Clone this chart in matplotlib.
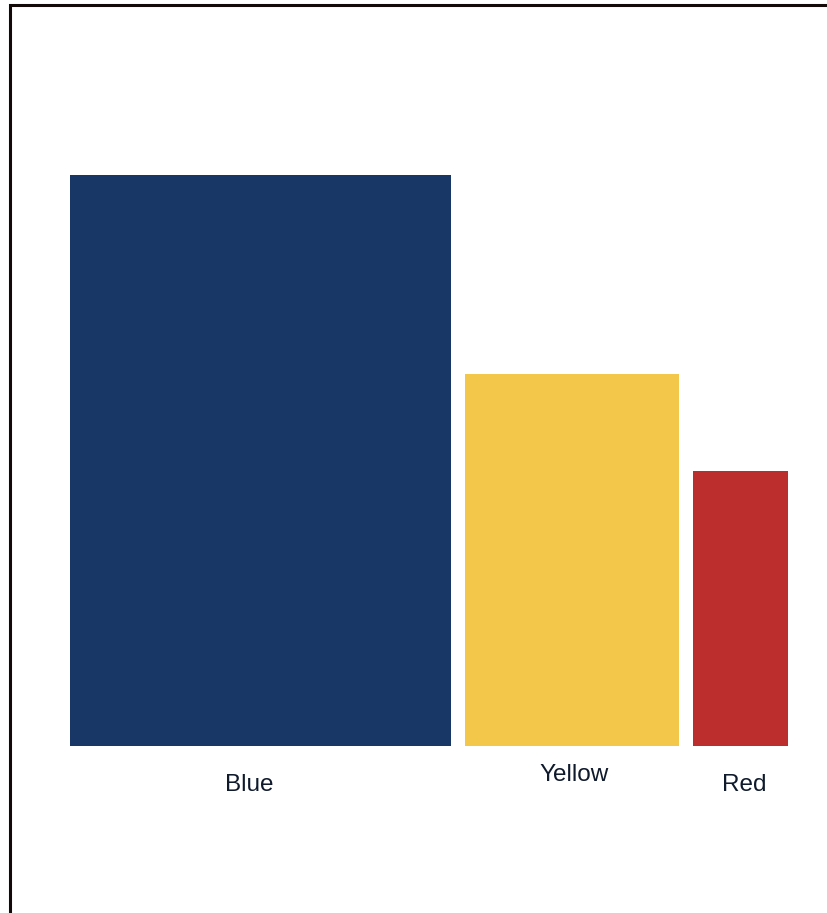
import numpy as np
import matplotlib.pyplot as plt
from matplotlib.patches import Rectangle

# data
categories = ["Blue", "Yellow", "Red"]
values = [100, 65.1, 48.2]
widths = [40, 22.5, 10]
colors = ["#183666", "#f3c74a", "#bc2e2e"]

plt.rcParams['font.family'] = ['Liberation Sans', 'DejaVu Sans']

fig = plt.figure(figsize=(8.28, 9.13), dpi=100)
W, H = 828, 913
# axes placed so the bars land where they sit in the picture
ax = fig.add_axes([70 / W, (H - 746) / H, 718 / W, 571 / H])

gap = 1.47
lefts = np.concatenate([[0], np.cumsum(np.array(widths[:-1]) + gap)])
ax.bar(lefts, values, width=widths, align="edge", color=colors, linewidth=0)

ax.set_xlim(0, lefts[-1] + widths[-1])
ax.set_ylim(0, 100)
ax.axis("off")

# labels under the bars (yellow one sits a bit higher)
label_dx = [-1.2, 0.2, 0.4]
label_dy = [-6.8, -5.0, -6.8]
for i, name in enumerate(categories):
    ax.text(lefts[i] + widths[i] / 2 + label_dx[i], label_dy[i], name,
            ha="center", va="center", fontsize=17.5, color="#0f1a2c", clip_on=False)

# the dark frame on the left and top edge
fig.patches.append(Rectangle((10 / W, -0.1), 1.2, 1.1 - 5.5 / H, transform=fig.transFigure,
                             fill=False, edgecolor="#140909", linewidth=2.2))

fig.savefig("out.png", dpi=100)
